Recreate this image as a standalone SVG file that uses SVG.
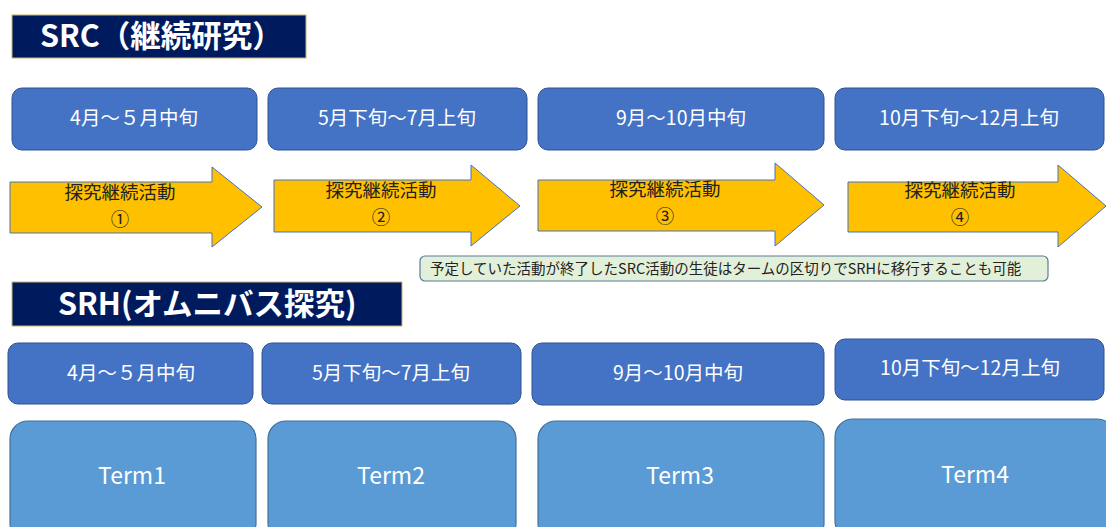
<svg xmlns="http://www.w3.org/2000/svg" width="1106" height="527" viewBox="0 0 1106 527">
<style>
text{font-family:"Noto Sans CJK JP","Noto Sans",sans-serif}
.title{fill:#001A5E;stroke:#C9B76A;stroke-width:1}
.tt{fill:#fff;font-size:30.5px;font-weight:bold}
.date{fill:#4472C4;stroke:#2F528F;stroke-width:1}
.dt{fill:#fff;font-size:19.5px;text-anchor:middle}
.arr{fill:#FFC000;stroke:#4472C4;stroke-width:1}
.at{fill:#222;font-size:18.5px;text-anchor:middle}
.term{fill:#5B9BD5;stroke:#41719C;stroke-width:1.2}
.tm{fill:#fff;font-size:23px;text-anchor:middle}
.note{fill:#E2F0D9;stroke:#5B7C99;stroke-width:1.2}
.nt{fill:#222;font-size:14.5px}
</style>
<rect width="1106" height="527" fill="#fff"/>
<g id="title-src"><rect class="title" x="12" y="15" width="294" height="43"/><text class="tt" x="40" y="47">SRC（継続研究）</text></g>
<g id="src-date1"><rect class="date" x="12" y="88" width="245" height="62" rx="10"/><text class="dt" x="134" y="125">4月～５月中旬</text></g>
<g id="src-date2"><rect class="date" x="268" y="88" width="259" height="62" rx="10"/><text class="dt" x="397" y="125">5月下旬～7月上旬</text></g>
<g id="src-date3"><rect class="date" x="538" y="88" width="286" height="62" rx="10"/><text class="dt" x="681" y="125">9月～10月中旬</text></g>
<g id="src-date4"><rect class="date" x="835" y="88" width="269" height="62" rx="10"/><text class="dt" x="969" y="125">10月下旬～12月上旬</text></g>
<g id="arrow1"><polygon class="arr" points="10,182 212,182 212,167 262,207 212,247 212,233 10,233"/><text class="at" x="120" y="199">探究継続活動</text><text class="at" x="120" y="226">①</text></g>
<g id="arrow2"><polygon class="arr" points="274,180 471,180 471,165 520,206 471,246 471,232 274,232"/><text class="at" x="381" y="197">探究継続活動</text><text class="at" x="381" y="224">②</text></g>
<g id="arrow3"><polygon class="arr" points="538,180 775,180 775,163 824,205 775,246 775,231 538,231"/><text class="at" x="665" y="196">探究継続活動</text><text class="at" x="665" y="223">③</text></g>
<g id="arrow4"><polygon class="arr" points="848,182 1058,182 1058,165 1106,206 1058,247 1058,232 848,232"/><text class="at" x="960" y="197">探究継続活動</text><text class="at" x="960" y="224">④</text></g>
<g id="note"><rect class="note" x="420" y="256" width="628" height="25" rx="5"/><text class="nt" x="430" y="274">予定していた活動が終了したSRC活動の生徒はタームの区切りでSRHに移行することも可能</text></g>
<g id="title-srh"><rect class="title" x="12" y="282" width="390" height="44"/><text class="tt" x="58" y="315">SRH(オムニバス探究)</text></g>
<g id="srh-date1"><rect class="date" x="8" y="343" width="245" height="61" rx="10"/><text class="dt" x="131" y="380">4月～５月中旬</text></g>
<g id="srh-date2"><rect class="date" x="262" y="343" width="259" height="61" rx="10"/><text class="dt" x="391" y="380">5月下旬～7月上旬</text></g>
<g id="srh-date3"><rect class="date" x="532" y="343" width="292" height="62" rx="10"/><text class="dt" x="678" y="380">9月～10月中旬</text></g>
<g id="srh-date4"><rect class="date" x="835" y="339" width="269" height="61" rx="10"/><text class="dt" x="970" y="375">10月下旬～12月上旬</text></g>
<g id="term1"><rect class="term" x="10" y="421" width="246" height="120" rx="18"/><text class="tm" x="132" y="484">Term1</text></g>
<g id="term2"><rect class="term" x="268" y="421" width="248" height="120" rx="18"/><text class="tm" x="391" y="484">Term2</text></g>
<g id="term3"><rect class="term" x="538" y="421" width="286" height="120" rx="18"/><text class="tm" x="680" y="484">Term3</text></g>
<g id="term4"><rect class="term" x="835" y="419" width="280" height="120" rx="18"/><text class="tm" x="975" y="483">Term4</text></g>
<g id="connectors"></g>
</svg>
